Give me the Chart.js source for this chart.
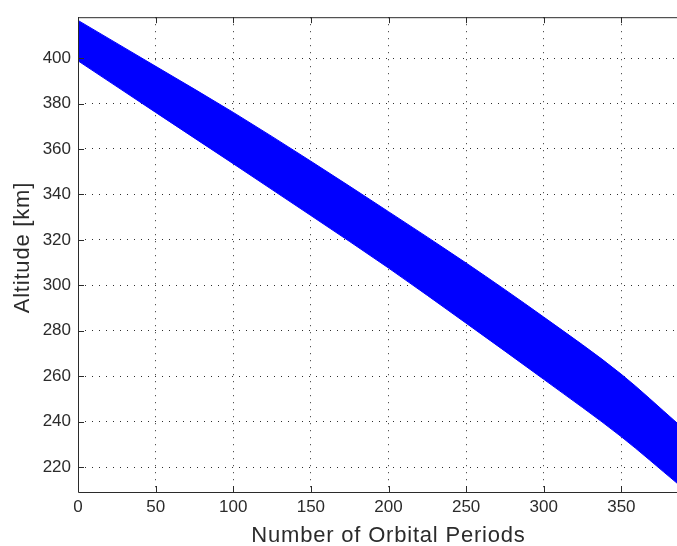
<!DOCTYPE html>
<html>
<head>
<meta charset="utf-8">
<script src="https://cdn.jsdelivr.net/npm/chart.js@4.4.1/dist/chart.umd.min.js"></script>
<style>
  html, body { margin: 0; padding: 0; background: #fff; }
  #wrap { width: 677px; height: 546px; overflow: hidden; position: relative; }
  canvas { display: block; }
</style>
</head>
<body>
<div id="wrap"><canvas id="chart" width="720" height="546"></canvas></div>
<script>
const orbits = [0, 50, 100, 150, 200, 250, 300, 350, 386];
// upper / lower edge of the oscillating altitude band (km)
const altMax = [416.6, 396.4, 376.1, 354.6, 332.4, 309.8, 286.0, 260.8, 239.3];
const altMin = [398.8, 376.1, 353.5, 330.7, 307.6, 283.3, 258.6, 233.3, 212.8];

const xTicks = [0, 50, 100, 150, 200, 250, 300, 350, 400];
const yTicks = [220, 240, 260, 280, 300, 320, 340, 360, 380, 400];

const xTitle = "Number of Orbital Periods";
const yTitle = "Altitude [km]";

const AXIS = "#2b2b2b";
const TICK_FONT = { family: "'Liberation Sans', Arial, sans-serif", size: 17 };

/* ---------- PLUGIN: matlab style box + inward ticks ---------- */

const matlabFrame = {
  id: "matlabFrame",
  afterDatasetsDraw(chart) {
    const { ctx, chartArea: a, scales } = chart;
    const len = 6;
    ctx.save();
    ctx.strokeStyle = AXIS;
    ctx.lineWidth = 1;
    ctx.beginPath();
    ctx.moveTo(a.left + 0.5, a.top + 0.5);
    ctx.lineTo(a.right + 0.5, a.top + 0.5);
    ctx.lineTo(a.right + 0.5, a.bottom + 0.5);
    ctx.lineTo(a.left + 0.5, a.bottom + 0.5);
    ctx.closePath();
    scales.x.ticks.forEach(t => {
      const px = Math.round(scales.x.getPixelForValue(t.value)) + 0.5;
      ctx.moveTo(px, a.bottom);
      ctx.lineTo(px, a.bottom - len);
      ctx.moveTo(px, a.top);
      ctx.lineTo(px, a.top + len);
    });
    scales.y.ticks.forEach(t => {
      const py = Math.round(scales.y.getPixelForValue(t.value)) + 0.5;
      ctx.moveTo(a.left, py);
      ctx.lineTo(a.left + len, py);
      ctx.moveTo(a.right, py);
      ctx.lineTo(a.right - len, py);
    });
    ctx.stroke();
    ctx.restore();
  }
};

/* ---------- PLUGIN: axis titles (slightly spaced, like matlab) ---------- */

const axisTitles = {
  id: "axisTitles",
  afterDraw(chart) {
    const { ctx, chartArea: a } = chart;
    ctx.save();
    ctx.fillStyle = AXIS;
    ctx.font = "22px 'Liberation Sans', Arial, sans-serif";
    ctx.letterSpacing = "0.8px";
    ctx.textAlign = "center";
    ctx.textBaseline = "alphabetic";
    ctx.fillText(xTitle, (a.left + a.right) / 2, chart.height - 4);
    ctx.translate(29, (a.top + a.bottom) / 2 - 7);
    ctx.rotate(-Math.PI / 2);
    ctx.fillText(yTitle, 0, 0);
    ctx.restore();
  }
};

/* ---------- CHART ---------- */

const upper = orbits.map((x, i) => ({ x, y: altMax[i] }));
const lower = orbits.map((x, i) => ({ x, y: altMin[i] }));

new Chart(document.getElementById("chart"), {
  type: "line",
  data: {
    datasets: [
      {
        label: "max",
        data: upper,
        borderColor: "#0000ff",
        backgroundColor: "#0000ff",
        borderWidth: 1,
        pointRadius: 0,
        cubicInterpolationMode: "monotone",
        fill: "+1"
      },
      {
        label: "min",
        data: lower,
        borderColor: "#0000ff",
        backgroundColor: "#0000ff",
        borderWidth: 1,
        pointRadius: 0,
        cubicInterpolationMode: "monotone",
        fill: false
      }
    ]
  },
  options: {
    responsive: false,
    animation: false,
    layout: { padding: { left: 0, top: 11, right: 21, bottom: 0 } },
    plugins: {
      legend: { display: false },
      tooltip: { enabled: false }
    },
    scales: {
      x: {
        type: "linear",
        min: 0,
        max: 400,
        afterBuildTicks: s => { s.ticks = xTicks.map(v => ({ value: v })); },
        afterFit: s => { s.height = 54; },
        border: { display: false, dash: [1, 6] },
        grid: { color: "#2e2e2e", lineWidth: 1, drawTicks: false },
        ticks: { color: AXIS, font: TICK_FONT, padding: 5, maxRotation: 0 }
      },
      y: {
        min: 209,
        max: 418,
        afterBuildTicks: s => { s.ticks = yTicks.map(v => ({ value: v })); },
        afterFit: s => { s.width = 78; },
        border: { display: false, dash: [1, 6] },
        grid: { color: "#2e2e2e", lineWidth: 1, drawTicks: false },
        ticks: { color: AXIS, font: TICK_FONT, padding: 7 }
      }
    }
  },
  plugins: [matlabFrame, axisTitles]
});
</script>
</body>
</html>
